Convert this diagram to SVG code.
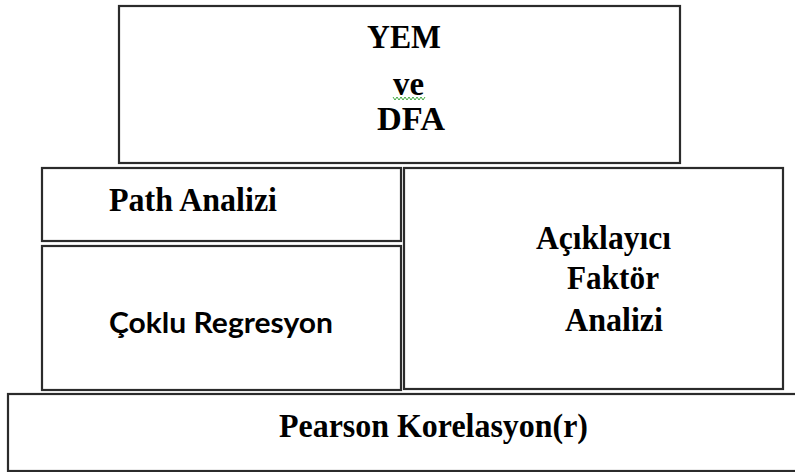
<svg xmlns="http://www.w3.org/2000/svg" width="795" height="472" viewBox="0 0 795 472">
<style>
.box{fill:#fff;stroke:#2b2b2b;stroke-width:2.2}
.s{font-family:"Liberation Serif","Times New Roman",serif;font-weight:bold;font-size:34px;fill:#000}
.c{font-family:Lato,"Noto Sans",sans-serif;font-weight:bold;font-size:29px;fill:#000}
</style>
<rect width="795" height="472" fill="#fff"/>
<g id="yem">
<rect class="box" x="119" y="6" width="561" height="157"/>
<text class="s" x="367" y="48" textLength="74" lengthAdjust="spacingAndGlyphs">YEM</text>
<text class="s" x="393" y="95" textLength="31" lengthAdjust="spacingAndGlyphs">ve</text>
<polyline points="393,97 395,100 397,97 399,100 401,97 403,100 405,97 407,100 409,97 411,100 413,97 415,100 417,97 419,100 421,97 423,100 425,97" fill="none" stroke="#2ea02e" stroke-width="0.9"/>
<text class="s" x="377" y="130" textLength="68" lengthAdjust="spacingAndGlyphs">DFA</text>
</g>
<g id="path">
<rect class="box" x="42" y="168" width="359" height="73"/>
<text class="s" x="109" y="211" textLength="168" lengthAdjust="spacingAndGlyphs">Path Analizi</text>
</g>
<g id="coklu">
<rect class="box" x="42" y="246" width="359" height="144"/>
<text class="c" x="109" y="333" textLength="224" lengthAdjust="spacingAndGlyphs">Çoklu Regresyon</text>
</g>
<g id="afa">
<rect class="box" x="404" y="168" width="379" height="221"/>
<text class="s" x="536" y="249" textLength="135" lengthAdjust="spacingAndGlyphs">Açıklayıcı</text>
<text class="s" x="567" y="289" textLength="92" lengthAdjust="spacingAndGlyphs">Faktör</text>
<text class="s" x="565" y="331" textLength="98" lengthAdjust="spacingAndGlyphs">Analizi</text>
</g>
<g id="pearson">
<rect class="box" x="8" y="394" width="800" height="77"/>
<text class="s" x="279" y="437" textLength="309" lengthAdjust="spacingAndGlyphs">Pearson Korelasyon(r)</text>
</g>
<g id="connectors"></g>
</svg>
